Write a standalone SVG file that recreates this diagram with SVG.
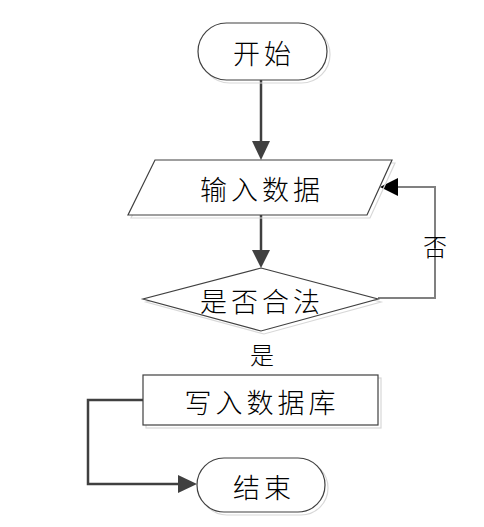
<svg xmlns="http://www.w3.org/2000/svg" width="484" height="527" viewBox="0 0 484 527">
<defs>
<style>
.shape{fill:#ffffff;stroke:#404040;stroke-width:1.2}
.shadow{fill:none;stroke:#d8d8d8;stroke-width:1.2}
.lbl{font-family:"Noto Sans CJK SC","Noto Sans CJK JP",sans-serif;font-size:27px;font-weight:300;fill:#000;text-anchor:middle;dominant-baseline:central;letter-spacing:4px}
.edge{font-family:"Noto Sans CJK SC","Noto Sans CJK JP",sans-serif;font-size:24px;font-weight:300;fill:#000;text-anchor:middle;dominant-baseline:central}
.conn{fill:none;stroke:#404040;stroke-width:2.5}
.conn2{fill:none;stroke:#808080;stroke-width:2}
</style>
</defs>
<rect width="484" height="527" fill="#fff"/>
<g id="connectors">
<path class="conn" d="M261,80 L261,141" />
<path d="M252,141 L270,141 L261,160 z" fill="#404040"/>
<path class="conn" d="M261,215 L261,250" />
<path d="M252,250 L270,250 L261,268 z" fill="#404040"/>
<path class="conn2" d="M378,298 L435,298 L435,187 L398,187" />
<path d="M398,178 L398,196 L380,187 z" fill="#000"/>
<path class="conn" d="M143,400 L88,400 L88,484 L178,484" />
<path d="M178,475 L178,493 L197,484 z" fill="#404040"/>
</g>
<g id="start">
<rect class="shadow" x="201" y="26" width="129" height="57" rx="28.5"/>
<rect class="shape" x="198" y="23" width="129" height="57" rx="28.5"/>
<text class="lbl" x="264" y="52">开始</text>
</g>
<g id="input">
<path class="shadow" d="M158,163 L395,163 L370,218 L131,218 z"/>
<path class="shape" d="M155,160 L392,160 L367,215 L128,215 z"/>
<text class="lbl" x="262" y="188">输入数据</text>
</g>
<g id="decision">
<path class="shadow" d="M264,271 L381,302 L264,334 L146,302 z"/>
<path class="shape" d="M261,268 L378,299 L261,331 L143,299 z"/>
<text class="lbl" x="262" y="300">是否合法</text>
</g>
<g id="write">
<rect class="shadow" x="146" y="378" width="235" height="50"/>
<rect class="shape" x="143" y="375" width="235" height="50"/>
<text class="lbl" x="262" y="401">写入数据库</text>
</g>
<g id="end">
<rect class="shadow" x="200" y="461" width="128" height="54" rx="27"/>
<rect class="shape" x="197" y="458" width="128" height="54" rx="27"/>
<text class="lbl" x="264" y="486">结束</text>
</g>
<g id="labels">
<text class="edge" x="435" y="245">否</text>
<text class="edge" x="262" y="353">是</text>
</g>
</svg>
